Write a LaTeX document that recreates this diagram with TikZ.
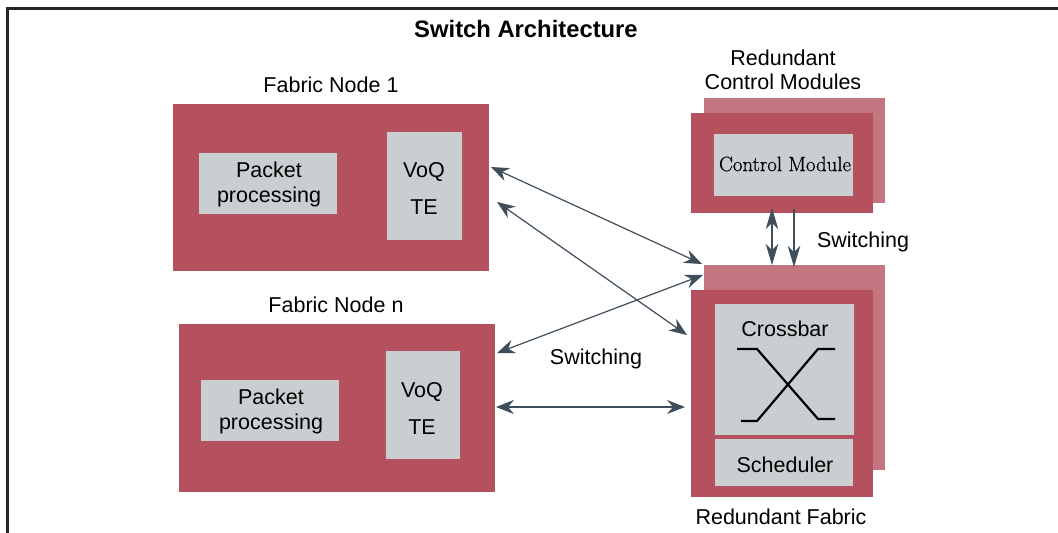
\documentclass[tikz,border=0pt]{standalone}
\usepackage{fontspec}
\setmainfont{Liberation Sans}
\newfontfamily\lmfont[FakeBold=0.6]{Latin Modern Roman}
\usetikzlibrary{arrows.meta}
\definecolor{fabred}{HTML}{B5515E}
\definecolor{shadowred}{HTML}{C37680}
\definecolor{panel}{HTML}{C9CFD1}
\definecolor{arrowcol}{HTML}{3F4E5A}
\tikzset{
  x=1pt,y=-1pt,
  redbox/.style={fill=fabred,draw=none,anchor=north west,inner sep=0pt,outer sep=0pt},
  shadowbox/.style={fill=shadowred,draw=none,anchor=north west,inner sep=0pt,outer sep=0pt},
  panelbox/.style={fill=panel,draw=none,anchor=north west,inner sep=0pt,outer sep=0pt},
  panellabel/.style={inner sep=0pt,align=center,font=\fontsize{21.5}{25}\selectfont},
  label/.style={inner sep=0pt,align=center,font=\fontsize{21.5}{24}\selectfont},
  link/.style={draw=arrowcol,line width=1.2pt,{Stealth[length=18pt,width=14pt,inset=6pt]}-{Stealth[length=18pt,width=14pt,inset=6pt]}},
  vlink/.style={draw=arrowcol,line width=1.3pt,{Stealth[length=21pt,width=12.5pt,inset=6pt]}-{Stealth[length=21pt,width=12.5pt,inset=6pt]}},
  oneway/.style={draw=arrowcol,line width=1.5pt,-{Stealth[length=21pt,width=12.5pt,inset=6pt]}},
  xbar/.style={draw=black,line width=2.2pt}
}
\begin{document}
\begin{tikzpicture}
\useasboundingbox (0,0) rectangle (1058,533);
% frame
\draw[line width=3.2pt,color=black!85] (7.5,533) -- (7.5,8.5) -- (1058,8.5);
\node[font=\fontsize{23.8}{27}\selectfont\bfseries,inner sep=0pt] (title) at (526,29) {Switch Architecture};
% fabric node 1
\node[label] (fn1) at (331,85) {Fabric Node 1};
\node[redbox,minimum width=316pt,minimum height=167pt] (n1) at (173,104) {};
\node[panelbox,minimum width=138pt,minimum height=61pt] (pp1) at (199,153) {};
\node[panellabel] (pp1t) at (269,184) {Packet\\processing};
\node[panelbox,minimum width=75pt,minimum height=108pt] (vq1) at (387,132) {};
\node[panellabel] (vq1t) at (424,188) {VoQ\\[12pt]TE};
% fabric node n
\node[label] (fnn) at (336,305) {Fabric Node n};
\node[redbox,minimum width=316pt,minimum height=168pt] (n2) at (179,324) {};
\node[panelbox,minimum width=138pt,minimum height=61pt] (pp2) at (201,380) {};
\node[panellabel] (pp2t) at (271,411) {Packet\\processing};
\node[panelbox,minimum width=73.5pt,minimum height=108pt] (vq2) at (386,351) {};
\node[panellabel] (vq2t) at (422,408) {VoQ\\[12pt]TE};
% control modules
\node[label] (rcm) at (783,70) {Redundant\\Control Modules};
\node[shadowbox,minimum width=181pt,minimum height=105pt] (cs) at (704,98) {};
\node[redbox,minimum width=182pt,minimum height=100pt] (cm) at (691,113) {};
\node[panelbox,minimum width=139pt,minimum height=62pt] (cp) at (714,134) {};
\node[inner sep=0pt,font=\lmfont\fontsize{20.8}{24}\selectfont] (cpt) at (785,164) {Control Module};
% fabric
\node[shadowbox,minimum width=181pt,minimum height=205pt] (fs) at (704,265) {};
\node[redbox,minimum width=182pt,minimum height=207pt] (fb) at (691,290) {};
\node[panelbox,minimum width=139pt,minimum height=131pt] (xb) at (715,304) {};
\node[label] (xl) at (785,329) {Crossbar};
\node[panelbox,minimum width=138pt,minimum height=47pt] (sc) at (715,439) {};
\node[panellabel] (sct) at (785,464.5) {Scheduler};
\node[label] (rf) at (781,517) {Redundant Fabric};
% crossbar symbol
\draw[xbar] (737,349) -- (757,349) -- (818,419) -- (835,419);
\draw[xbar] (835,349) -- (818,349) -- (757,421) -- (741,421);
% labels
\node[label] (sw1) at (863,242) {Switching};
\node[label] (sw2) at (596,359) {Switching};
% link anchors
\coordinate (a1) at (491,167);
\coordinate (a2) at (702,264);
\coordinate (b1) at (497,202);
\coordinate (b2) at (687,335);
\coordinate (c1) at (497,353);
\coordinate (c2) at (703,275);
\coordinate (d1) at (496,407);
\coordinate (d2) at (685,407);
\coordinate (e1) at (772,208);
\coordinate (e2) at (772,265);
\coordinate (f1) at (794,209);
\coordinate (f2) at (794,267);
\draw[link] (a1) -- (a2);
\draw[link] (b1) -- (b2);
\draw[link] (c1) -- (c2);
\draw[link] (d1) -- (d2);
\draw[vlink] (e1) -- (e2);
\draw[oneway] (f1) -- (f2);
\end{tikzpicture}
\end{document}
